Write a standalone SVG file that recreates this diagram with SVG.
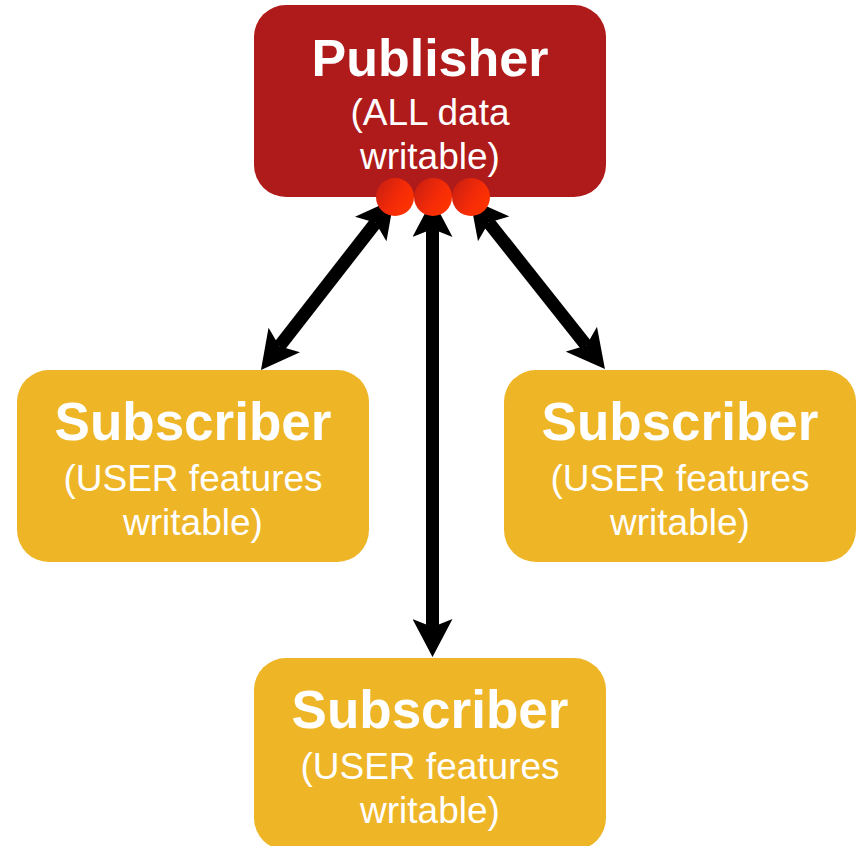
<svg xmlns="http://www.w3.org/2000/svg" width="860" height="846" viewBox="0 0 860 846">
  <defs>
    <style>
      .title { font-family: "Liberation Sans", Arial, sans-serif; font-weight: bold; font-size: 52px; fill: #ffffff; text-anchor: middle; }
      .title2 { font-size: 53px; }
      .sub { font-family: "Liberation Sans", Arial, sans-serif; font-size: 37px; fill: #ffffff; text-anchor: middle; }
      .pub { fill: #AF1A1A; }
      .subbox { fill: #EEB527; }
      .conn { stroke: #000000; stroke-width: 13; fill: none; marker-start: url(#arrow); marker-end: url(#arrow); }
      .dot { fill: url(#dotgrad); }
    </style>
    <linearGradient id="dotgrad" x1="0" y1="0" x2="1" y2="0.6">
      <stop offset="0" stop-color="#C41E12"/>
      <stop offset="0.6" stop-color="#F22A08"/>
      <stop offset="1" stop-color="#FF3300"/>
    </linearGradient>
    <marker id="arrow" viewBox="0 -20 38 40" refX="8" refY="0" markerWidth="38" markerHeight="40" markerUnits="userSpaceOnUse" orient="auto-start-reverse">
      <path d="M38,0 L0,-20 L8,0 L0,20 Z" fill="#000000"/>
    </marker>
  </defs>

  <g id="publisher">
    <rect class="pub" x="254" y="5" width="352" height="192" rx="32" ry="32"/>
    <text class="title" x="430" y="76">Publisher</text>
    <text class="sub" x="430" y="125">(ALL data</text>
    <text class="sub" x="430" y="169">writable)</text>
  </g>

  <g id="subscriber-left">
    <rect class="subbox" x="17" y="370" width="352" height="192" rx="32" ry="32"/>
    <text class="title title2" x="193" y="440">Subscriber</text>
    <text class="sub" x="193" y="491">(USER features</text>
    <text class="sub" x="193" y="535">writable)</text>
  </g>

  <g id="subscriber-right">
    <rect class="subbox" x="504" y="370" width="352" height="192" rx="32" ry="32"/>
    <text class="title title2" x="680" y="440">Subscriber</text>
    <text class="sub" x="680" y="491">(USER features</text>
    <text class="sub" x="680" y="535">writable)</text>
  </g>

  <g id="subscriber-bottom">
    <rect class="subbox" x="254" y="658" width="352" height="192" rx="32" ry="32"/>
    <text class="title title2" x="430" y="728">Subscriber</text>
    <text class="sub" x="430" y="779">(USER features</text>
    <text class="sub" x="430" y="823">writable)</text>
  </g>

  <g id="connectors">
    <path class="conn" d="M375.6,222.7 L279.4,346.3"/>
    <path class="conn" d="M432.5,229 L432.5,627"/>
    <path class="conn" d="M488.7,222.5 L586.3,345.5"/>
  </g>

  <g id="ports">
    <circle class="dot" cx="395" cy="197" r="19"/>
    <circle class="dot" cx="433" cy="197" r="19"/>
    <circle class="dot" cx="471" cy="197" r="19"/>
  </g>
</svg>
